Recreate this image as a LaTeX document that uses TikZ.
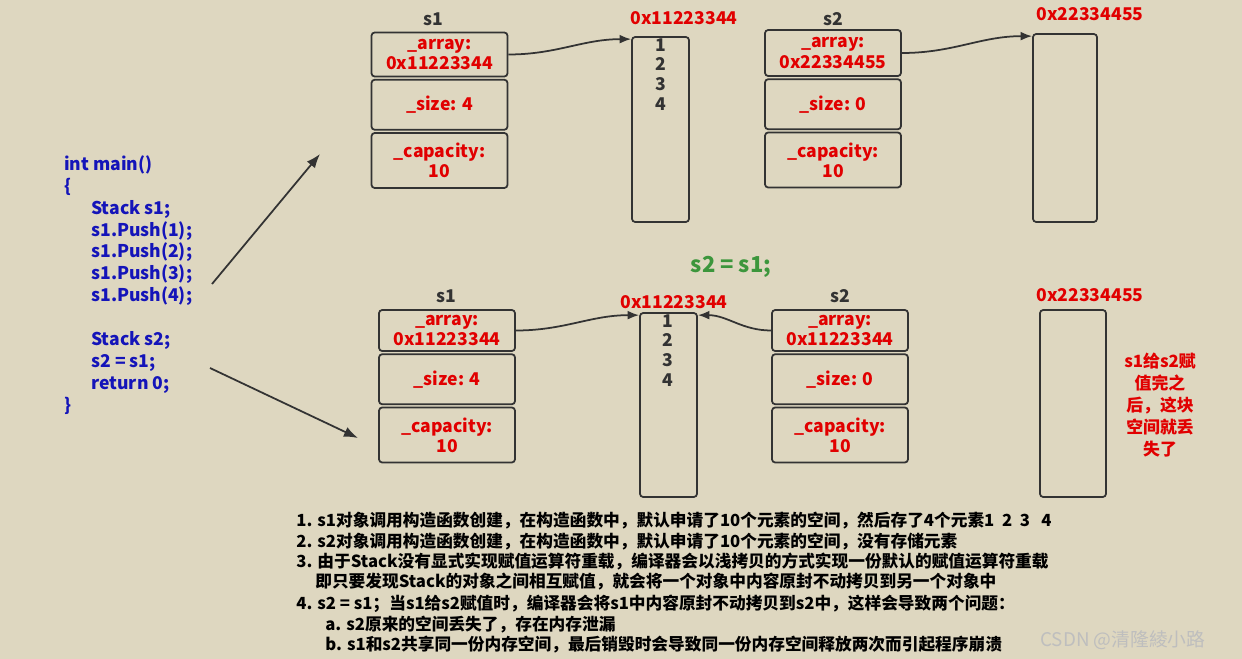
\documentclass[tikz,border=0pt]{standalone}
\usepackage{fontspec}
\setmainfont{Noto Sans CJK SC}
\usetikzlibrary{arrows.meta,positioning}

\definecolor{paper}{RGB}{222,215,192}
\definecolor{linec}{RGB}{51,51,51}
\definecolor{memred}{RGB}{225,0,0}
\definecolor{codeblue}{RGB}{20,20,185}
\definecolor{assigngreen}{RGB}{60,150,60}
\definecolor{markgray}{RGB}{190,190,190}

\tikzset{
  field/.style={draw=linec,line width=1pt,rounded corners=1.8pt,minimum width=2.72cm,inner sep=0pt,
    align=center,text=memred,font=\fontsize{10}{11.4}\selectfont\bfseries},
  memblock/.style={draw=linec,line width=1pt,rounded corners=1.8pt,inner sep=0pt},
  ptr/.style={draw=linec,line width=1pt,-{Latex[length=6.5pt,width=5pt]}},
  objname/.style={text=linec,font=\fontsize{10}{12}\selectfont\bfseries},
  addr/.style={text=memred,font=\fontsize{10}{12}\selectfont\bfseries},
  nums/.style={anchor=north,inner sep=0pt,align=center,text=linec,font=\fontsize{10}{11.3}\selectfont\bfseries},
  note/.style={anchor=west,inner sep=0pt,font=\fontsize{9.5}{11}\selectfont\bfseries}
}

\begin{document}
\begin{tikzpicture}[x=0.02cm,y=-0.02cm]
\fill[paper] (0,0) rectangle (1242,659);
\useasboundingbox (0,0) rectangle (1242,659);

% the program
\node[anchor=north west,inner sep=0pt,align=left,text=codeblue,font=\fontsize{10}{12.5}\selectfont\bfseries] (code) at (64,155)
  {int main()\\ \{\\
   \hspace{0.54cm}Stack s1;\\ \hspace{0.54cm}s1.Push(1);\\ \hspace{0.54cm}s1.Push(2);\\
   \hspace{0.54cm}s1.Push(3);\\ \hspace{0.54cm}s1.Push(4);\\[12.5pt]
   \hspace{0.54cm}Stack s2;\\ \hspace{0.54cm}s2 = s1;\\ \hspace{0.54cm}return 0;\\ \}};

\coordinate (upfrom) at (212,284);
\coordinate (upto) at (320,154);
\coordinate (downfrom) at (210,368);
\coordinate (downto) at (358,438);
\draw[ptr,-{Latex[length=8pt,width=6pt]}] (upfrom) -- (upto);
\draw[ptr,-{Latex[length=8pt,width=6pt]}] (downfrom) -- (downto);

% before the assignment
\node[objname] (s1name) at (433,19) {s1};
\node[field,minimum height=0.88cm] (s1arr) at (439.5,54.5) {\_array:\\0x11223344};
\node[field,minimum height=1.0cm,below=0.03cm of s1arr] (s1size) {\_size: 4};
\node[field,minimum height=1.1cm,below=0.03cm of s1size] (s1cap) {\_capacity:\\10};

\node[memblock,minimum width=1.14cm,minimum height=3.7cm] (mem1) at (660.5,129.5) {};
\node[addr] (mem1addr) at (684,18) {0x11223344};
\node[nums] (mem1nums) at (661,38) {1\\2\\3\\4};

\node[objname] (s2name) at (833,19) {s2};
\node[field,minimum height=0.92cm] (s2arr) at (833,53) {\_array:\\0x22334455};
\node[field,minimum height=1.0cm,below=0.03cm of s2arr] (s2size) {\_size: 0};
\node[field,minimum height=1.1cm,below=0.03cm of s2size] (s2cap) {\_capacity:\\10};

\node[memblock,minimum width=1.28cm,minimum height=3.76cm] (mem2) at (1065,128) {};
\node[addr] (mem2addr) at (1090,14) {0x22334455};

\draw[ptr] (s1arr.east) to[out=0,in=180] ([yshift=-0.06cm]mem1.north west);
\draw[ptr] (s2arr.east) to[out=0,in=180] ([yshift=-0.06cm]mem2.north west);

\node[text=assigngreen,font=\fontsize{12.5}{14}\selectfont\bfseries] (assign) at (731,267) {s2 = s1;};

% after the assignment
\node[objname] (s1bname) at (446,296) {s1};
\node[field,minimum height=0.82cm] (s1barr) at (447,330.5) {\_array:\\0x11223344};
\node[field,minimum height=1.0cm,below=0.03cm of s1barr] (s1bsize) {\_size: 4};
\node[field,minimum height=1.1cm,below=0.03cm of s1bsize] (s1bcap) {\_capacity:\\10};

\node[memblock,minimum width=1.14cm,minimum height=3.68cm] (memb) at (668.5,405) {};
\node[addr] (membaddr) at (674,302) {0x11223344};
\node[nums] (membnums) at (668,314) {1\\2\\3\\4};

\node[objname] (s2bname) at (840,296) {s2};
\node[field,minimum height=0.82cm] (s2barr) at (840,330.5) {\_array:\\0x11223344};
\node[field,minimum height=1.0cm,below=0.03cm of s2barr] (s2bsize) {\_size: 0};
\node[field,minimum height=1.1cm,below=0.03cm of s2bsize] (s2bcap) {\_capacity:\\10};

\node[memblock,minimum width=1.32cm,minimum height=3.74cm] (lost) at (1073,403.5) {};
\node[addr] (lostaddr) at (1090,295) {0x22334455};
\node[align=center,text=memred,font=\fontsize{9.6}{12.5}\selectfont\bfseries] (lostnote) at (1160,405)
  {s1给s2赋\\值完之\\后，这块\\空间就丢\\失了};

\draw[ptr] (s1barr.east) to[out=0,in=180] ([yshift=-0.06cm]memb.north west);
\draw[ptr] (s2barr.west) to[out=180,in=0] ([yshift=-0.06cm]memb.north east);

% explanation
\node[note] (l1) at (296,521) {1. s1对象调用构造函数创建，在构造函数中，默认申请了10个元素的空间，然后存了4个元素1\ \ 2\ \ 3\ \ \ 4};
\node[note] (l2) at (296,542) {2. s2对象调用构造函数创建，在构造函数中，默认申请了10个元素的空间，没有存储元素};
\node[note] (l3) at (296,562) {3. 由于Stack没有显式实现赋值运算符重载，编译器会以浅拷贝的方式实现一份默认的赋值运算符重载};
\node[note] (l4) at (315,582) {即只要发现Stack的对象之间相互赋值，就会将一个对象中内容原封不动拷贝到另一个对象中};
\node[note] (l5) at (296,604) {4. s2 = s1；当s1给s2赋值时，编译器会将s1中内容原封不动拷贝到s2中，这样会导致两个问题：};
\node[note] (l6) at (325,625) {a. s2原来的空间丢失了，存在内存泄漏};
\node[note] (l7) at (325,645) {b. s1和s2共享同一份内存空间，最后销毁时会导致同一份内存空间释放两次而引起程序崩溃};

\node[anchor=west,inner sep=0pt,text=markgray,font=\fontsize{10.7}{12}\selectfont] (mark) at (1040,640) {CSDN @清隆綾小路};
\end{tikzpicture}
\end{document}
